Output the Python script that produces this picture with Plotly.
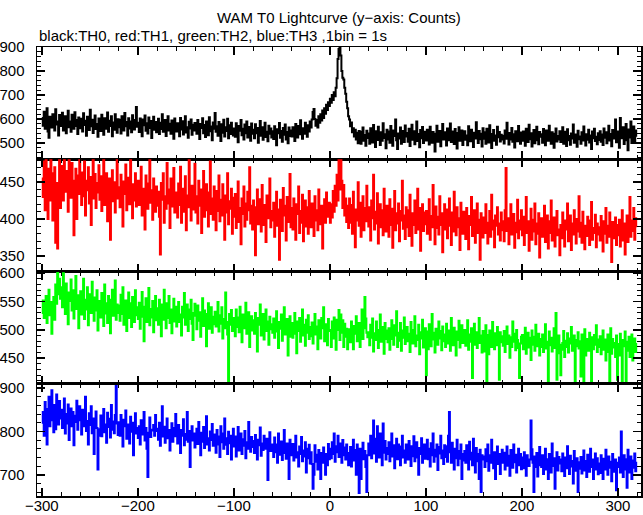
import numpy as np
import plotly.graph_objects as go

# ---------------- data (1 bin = 1 s, first bin at t = -300 s) ----------------
t_start = -300
bin_size = 1

black_th0 = [
    605, 572, 631, 560, 598, 645, 548, 522, 610, 584, 565, 620, 596, 553, 641, 578, 590, 532, 617, 571,
    598, 626, 553, 579, 612, 541, 603, 635, 566, 590, 547, 618, 584, 560, 629, 571, 596, 538, 607, 583,
    562, 601, 548, 624, 575, 593, 531, 610, 586, 555, 639, 570, 597, 542, 588, 615, 559, 580, 527, 603,
    590, 551, 618, 569, 535, 604, 582, 560, 628, 547, 593, 571, 612, 529, 586, 556, 620, 575, 543, 599,
    566, 597, 540, 612, 579, 553, 625, 570, 588, 532, 604, 561, 590, 545, 616, 572, 557, 596, 650, 568,
    585, 546, 603, 567, 529, 598, 574, 615, 552, 583, 540, 607, 563, 592, 521, 579, 610, 556, 588, 545,
    572, 601, 538, 585, 559, 620, 547, 575, 596, 530, 568, 612, 553, 581, 539, 594, 566, 518, 603, 557,
    548, 583, 570, 529, 605, 557, 591, 536, 574, 612, 544, 566, 522, 589, 561, 598, 535, 577, 553, 584,
    571, 539, 596, 552, 517, 580, 563, 604, 541, 575, 526, 590, 557, 533, 608, 549, 569, 512, 586, 560,
    625, 547, 570, 531, 588, 556, 509, 579, 543, 597, 528, 566, 551, 602, 520, 574, 538, 585, 555, 532,
    561, 527, 583, 545, 504, 571, 552, 596, 533, 560, 515, 578, 541, 590, 524, 556, 567, 510, 582, 539,
    556, 520, 579, 541, 563, 502, 548, 592, 531, 566, 514, 553, 585, 526, 547, 508, 572, 539, 561, 523,
    549, 517, 570, 532, 491, 558, 541, 584, 522, 551, 506, 563, 535, 578, 515, 546, 500, 565, 530, 553,
    528, 566, 541, 509, 580, 546, 523, 571, 537, 595, 550, 518, 562, 539, 585, 552, 527, 574, 548, 590,
    565, 598, 630, 642, 600, 572, 596, 565, 612, 585, 620, 594, 636, 605, 645, 622, 660, 638, 670, 655,
    685, 668, 700, 680, 712, 695, 730, 770, 850, 892, 900, 865, 800, 772, 765, 730, 705, 672, 645, 612,
    598, 570, 586, 545, 562, 528, 556, 515, 543, 500, 551, 526, 498, 547, 565, 510, 534, 489, 552, 521,
    540, 497, 562, 518, 503, 575, 529, 484, 550, 513, 568, 526, 492, 545, 510, 583, 521, 537, 479, 556,
    515, 548, 502, 571, 525, 489, 553, 530, 598, 512, 476, 540, 519, 565, 497, 534, 551, 505, 573, 528,
    542, 506, 560, 488, 531, 577, 514, 549, 495, 526, 590, 509, 538, 483, 555, 520, 567, 501, 536, 547,
    511, 556, 523, 494, 568, 530, 502, 546, 517, 465, 539, 572, 506, 528, 551, 487, 533, 580, 515, 545,
    524, 490, 561, 512, 537, 582, 505, 548, 520, 496, 559, 533, 478, 542, 566, 510, 527, 553, 492, 536,
    549, 514, 532, 491, 570, 523, 508, 556, 527, 484, 543, 519, 587, 530, 501, 551, 516, 539, 486, 562,
    518, 545, 497, 560, 529, 503, 574, 521, 480, 538, 555, 510, 532, 493, 568, 525, 546, 507, 535, 515,
    531, 499, 553, 518, 585, 527, 494, 542, 515, 563, 506, 537, 482, 550, 522, 508, 571, 529, 497, 544,
    510, 548, 523, 489, 560, 530, 505, 577, 516, 541, 486, 533, 555, 500, 524, 568, 512, 495, 546, 527,
    537, 502, 559, 520, 491, 553, 528, 510, 572, 517, 498, 545, 526, 481, 539, 561, 507, 530, 515, 549,
    505, 534, 566, 498, 521, 547, 488, 558, 512, 530, 493, 540, 519, 578, 502, 536, 524, 485, 552, 516,
    528, 497, 545, 511, 569, 523, 490, 537, 514, 556, 503, 532, 476, 548, 520, 560, 509, 527, 495, 541,
    513, 550, 506, 536, 492, 561, 522, 545, 500, 529, 572, 511, 538, 487, 555, 519, 533, 598, 504, 526,
    548, 481, 605, 520, 543, 566, 496, 533, 580, 512, 470, 557, 524, 590, 501, 538, 569, 509, 553, 527,
]

red_th1 = [
    455, 430, 478, 412, 490, 445, 400, 468, 425, 485, 438, 398, 462, 470, 368, 449, 360, 433, 486, 415,
    472, 448, 425, 491, 456, 437, 465, 410, 483, 444, 429, 476, 452, 378, 441, 468, 400, 459, 434, 487,
    446, 419, 463, 431, 478, 405, 452, 439, 470, 421, 457, 392, 444, 482, 428, 461, 415, 449, 436, 473,
    426, 458, 411, 447, 480, 419, 438, 462, 397, 441, 455, 372, 431, 466, 424, 450, 409, 437, 484, 428,
    443, 416, 460, 425, 390, 451, 434, 474, 412, 439, 456, 420, 483, 433, 401, 447, 425, 462, 417, 438,
    452, 419, 436, 471, 405, 441, 427, 386, 459, 430, 414, 448, 481, 422, 439, 399, 455, 428, 410, 444,
    418, 437, 403, 352, 449, 426, 462, 395, 431, 414, 476, 421, 440, 388, 455, 417, 433, 469, 409, 428,
    436, 402, 448, 419, 471, 395, 427, 441, 410, 458, 385, 432, 416, 483, 424, 398, 445, 413, 437, 475,
    409, 431, 394, 452, 418, 440, 381, 426, 465, 403, 421, 447, 412, 390, 436, 478, 407, 428, 399, 444,
    420, 385, 438, 411, 459, 397, 426, 405, 447, 418, 372, 432, 409, 462, 393, 424, 414, 441, 380, 429,
    403, 434, 388, 419, 451, 396, 415, 366, 428, 407, 444, 390, 421, 399, 437, 412, 470, 394, 418, 386,
    425, 398, 351, 416, 440, 393, 410, 427, 383, 446, 404, 392, 419, 369, 432, 401, 415, 455, 389, 411,
    398, 422, 376, 409, 437, 391, 413, 345, 426, 400, 384, 442, 405, 418, 371, 430, 396, 412, 461, 389,
    415, 386, 428, 399, 372, 420, 407, 444, 381, 411, 395, 433, 370, 404, 425, 390, 416, 380, 438, 401,
    389, 421, 404, 377, 431, 398, 412, 385, 440, 406, 393, 418, 360, 410, 427, 395, 436, 403, 415, 422,
    395, 420, 402, 438, 410, 445, 418, 460, 425, 481, 440, 490, 452, 415, 446, 405, 428, 396, 418, 388,
    428, 395, 419, 380, 437, 405, 362, 413, 398, 450, 391, 422, 376, 408, 431, 385, 415, 397, 445, 402,
    390, 416, 371, 425, 401, 460, 386, 410, 394, 435, 367, 404, 420, 389, 412, 378, 441, 399, 383, 418,
    403, 376, 427, 392, 414, 361, 399, 438, 385, 408, 394, 421, 370, 411, 398, 452, 387, 405, 373, 416,
    389, 412, 377, 433, 396, 364, 408, 392, 425, 381, 401, 441, 386, 415, 357, 398, 420, 384, 409, 393,
    411, 380, 398, 427, 372, 404, 389, 446, 395, 366, 417, 388, 403, 379, 431, 392, 408, 355, 399, 420,
    386, 413, 374, 400, 428, 391, 365, 409, 383, 437, 397, 378, 416, 389, 401, 358, 422, 394, 380, 410,
    398, 373, 415, 386, 359, 404, 392, 430, 377, 395, 412, 368, 387, 421, 381, 399, 345, 408, 390, 375,
    402, 381, 420, 395, 367, 389, 411, 376, 433, 386, 398, 362, 405, 391, 416, 379, 394, 371, 409, 385,
    397, 370, 412, 469, 384, 401, 366, 393, 420, 379, 388, 407, 361, 395, 382, 426, 374, 398, 386, 412,
    378, 403, 365, 392, 430, 381, 397, 357, 388, 414, 372, 399, 383, 421, 366, 394, 380, 408, 348, 390,
    401, 376, 392, 418, 369, 386, 405, 360, 397, 381, 425, 371, 389, 402, 363, 393, 411, 378, 386, 351,
    392, 374, 409, 381, 363, 398, 386, 421, 370, 389, 405, 358, 394, 379, 412, 385, 367, 400, 383, 431,
    376, 395, 368, 410, 384, 359, 391, 377, 403, 386, 365, 398, 423, 372, 388, 381, 406, 362, 394, 379,
    389, 371, 404, 383, 356, 397, 380, 415, 368, 391, 376, 409, 385, 342, 396, 374, 388, 402, 365, 392,
    378, 399, 363, 386, 412, 371, 394, 352, 381, 405, 369, 390, 430, 376, 398, 384, 415, 372, 401, 389,
]

green_th2 = [
    530, 552, 521, 545, 560, 512, 538, 571, 526, 549, 493, 535, 558, 518, 580, 546, 602, 563, 590, 555,
    575, 540, 600, 560, 528, 582, 545, 510, 566, 551, 589, 534, 570, 520, 548, 595, 537, 561, 503, 552,
    568, 527, 544, 590, 519, 553, 536, 575, 508, 548, 563, 530, 585, 541, 516, 557, 534, 570, 499, 546,
    551, 522, 565, 538, 507, 580, 529, 547, 512, 560, 536, 494, 553, 571, 525, 541, 587, 518, 545, 530,
    543, 516, 562, 528, 575, 509, 537, 552, 498, 534, 566, 521, 547, 505, 558, 531, 514, 570, 526, 540,
    519, 548, 502, 535, 567, 523, 480, 541, 556, 514, 530, 574, 508, 537, 522, 551, 496, 533, 560, 517,
    538, 509, 553, 526, 489, 545, 518, 571, 530, 503, 547, 521, 560, 512, 536, 494, 528, 555, 515, 541,
    506, 533, 549, 514, 527, 490, 541, 522, 565, 509, 528, 545, 498, 536, 519, 553, 511, 482, 530, 546,
    525, 501, 543, 516, 531, 488, 520, 556, 507, 534, 513, 471, 528, 547, 502, 519, 540, 495, 523, 510,
    532, 506, 518, 549, 497, 526, 511, 540, 485, 519, 503, 566, 514, 492, 407, 528, 509, 535, 498, 521,
    514, 489, 536, 505, 522, 496, 541, 510, 478, 527, 503, 520, 548, 493, 515, 531, 470, 508, 524, 499,
    517, 493, 530, 504, 462, 521, 509, 545, 490, 512, 528, 483, 506, 536, 498, 515, 474, 523, 501, 510,
    495, 520, 486, 511, 533, 497, 468, 514, 502, 527, 481, 508, 540, 492, 506, 519, 455, 501, 524, 488,
    512, 486, 507, 530, 493, 459, 515, 498, 521, 479, 503, 536, 490, 509, 472, 518, 495, 526, 484, 505,
    489, 513, 476, 501, 528, 492, 506, 466, 517, 498, 485, 521, 503, 540, 480, 510, 494, 473, 519, 500,
    498, 470, 515, 485, 522, 492, 465, 518, 500, 535, 482, 527, 495, 517, 470, 511, 488, 502, 466, 494,
    501, 478, 515, 489, 466, 507, 493, 524, 480, 498, 512, 470, 490, 536, 484, 503, 558, 520, 495, 487,
    496, 473, 509, 486, 520, 462, 494, 482, 515, 500, 468, 491, 527, 479, 505, 488, 458, 512, 484, 499,
    478, 503, 465, 492, 517, 484, 474, 508, 490, 533, 470, 495, 481, 512, 463, 499, 486, 522, 475, 494,
    505, 480, 493, 461, 514, 488, 476, 500, 524, 471, 490, 482, 509, 457, 496, 485, 518, 469, 492, 503,
    420, 497, 466, 510, 487, 471, 528, 483, 495, 460, 502, 489, 474, 515, 485, 498, 464, 506, 480, 492,
    470, 511, 488, 476, 499, 463, 521, 486, 473, 504, 491, 455, 497, 482, 516, 469, 489, 508, 477, 494,
    500, 472, 486, 517, 465, 492, 479, 503, 415, 488, 511, 474, 496, 468, 484, 521, 477, 490, 460, 498,
    485, 462, 508, 410, 491, 457, 499, 483, 470, 514, 480, 466, 494, 473, 505, 487, 412, 496, 478, 489,
    472, 498, 461, 484, 506, 475, 490, 451, 487, 470, 515, 479, 493, 464, 500, 482, 468, 415, 476, 488,
    491, 466, 483, 504, 458, 477, 495, 469, 486, 447, 499, 474, 488, 463, 509, 480, 471, 493, 455, 484,
    470, 492, 461, 484, 510, 467, 479, 410, 497, 473, 486, 462, 481, 503, 468, 530, 412, 459, 490, 474,
    420, 465, 477, 498, 452, 481, 470, 494, 460, 485, 476, 505, 463, 479, 490, 406, 482, 471, 496, 467,
    480, 418, 492, 469, 408, 501, 455, 484, 472, 463, 495, 478, 408, 487, 466, 491, 474, 508, 461, 483,
    470, 489, 457, 478, 499, 465, 483, 446, 476, 492, 461, 410, 503, 458, 484, 469, 477, 452, 490, 412,
    475, 455, 493, 468, 406, 482, 471, 497, 409, 479, 463, 488, 452, 474, 492, 446, 470, 485, 461, 477,
]

blue_th3 = [
    820, 845, 790, 868, 835, 770, 852, 880, 812, 840, 895, 826, 798, 861, 805, 885, 842, 816, 870, 830,
    850, 808, 832, 876, 795, 840, 818, 862, 780, 829, 853, 812, 845, 768, 836, 822, 871, 804, 839, 858,
    826, 793, 850, 812, 835, 880, 801, 824, 770, 842, 815, 858, 796, 830, 748, 821, 846, 808, 712, 790,
    805, 837, 789, 821, 852, 798, 816, 774, 843, 810, 829, 786, 861, 804, 823, 796, 838, 905, 818, 792,
    821, 790, 838, 806, 765, 827, 812, 848, 783, 801, 816, 772, 834, 799, 820, 745, 810, 842, 795, 808,
    785, 812, 770, 826, 801, 793, 845, 779, 808, 760, 695, 797, 832, 787, 804, 802, 815, 790, 838, 801,
    806, 781, 820, 767, 795, 858, 788, 811, 774, 799, 830, 784, 803, 756, 792, 819, 776, 808, 789, 840,
    797, 772, 815, 784, 750, 803, 790, 828, 768, 794, 781, 845, 776, 801, 718, 788, 812, 779, 795, 763,
    789, 806, 771, 822, 783, 745, 797, 776, 810, 762, 791, 835, 770, 784, 756, 800, 780, 817, 767, 793,
    779, 751, 803, 770, 788, 741, 812, 775, 795, 760, 830, 769, 784, 748, 799, 773, 790, 735, 781, 806,
    765, 788, 742, 779, 810, 756, 773, 795, 748, 782, 767, 801, 738, 775, 760, 822, 771, 753, 787, 764,
    778, 750, 792, 763, 735, 781, 768, 809, 744, 772, 757, 790, 760, 766, 783, 688, 775, 798, 755, 770,
    763, 741, 786, 752, 770, 728, 795, 759, 746, 777, 734, 766, 803, 750, 737, 772, 755, 690, 781, 748,
    745, 771, 733, 758, 790, 740, 752, 719, 765, 748, 787, 731, 756, 742, 775, 705, 760, 738, 769, 726,
    752, 725, 668, 700, 768, 730, 746, 712, 757, 739, 690, 750, 728, 763, 735, 700, 748, 722, 771, 736,
    760, 738, 775, 748, 795, 730, 766, 752, 790, 741, 772, 758, 728, 780, 745, 763, 735, 770, 750, 722,
    738, 764, 719, 752, 781, 733, 757, 700, 770, 742, 658, 760, 690, 748, 774, 736, 755, 718, 660, 745,
    772, 745, 790, 738, 760, 825, 749, 783, 730, 812, 756, 740, 795, 766, 722, 818, 751, 778, 735, 762,
    748, 775, 731, 760, 795, 742, 768, 715, 757, 783, 736, 770, 748, 722, 765, 790, 740, 756, 728, 770,
    761, 735, 778, 752, 720, 766, 743, 789, 731, 757, 775, 740, 700, 762, 748, 784, 728, 755, 770, 737,
    752, 781, 736, 760, 719, 773, 745, 795, 730, 758, 742, 770, 711, 764, 749, 790, 738, 756, 725, 768,
    741, 766, 730, 790, 845, 752, 728, 774, 746, 712, 760, 738, 781, 722, 755, 737, 770, 690, 748, 733,
    755, 728, 768, 741, 712, 776, 735, 751, 722, 783, 740, 705, 762, 731, 748, 690, 758, 660, 745, 735,
    742, 718, 759, 731, 770, 709, 745, 728, 781, 736, 715, 752, 690, 740, 765, 725, 748, 702, 737, 758,
    728, 751, 712, 739, 765, 721, 744, 698, 757, 733, 716, 770, 729, 746, 705, 738, 760, 722, 748, 713,
    740, 715, 752, 726, 698, 745, 735, 720, 735, 825, 759, 728, 660, 742, 718, 750, 696, 733, 764, 722,
    718, 745, 702, 730, 760, 712, 736, 690, 748, 725, 705, 772, 720, 738, 668, 731, 752, 710, 741, 726,
    735, 708, 749, 721, 697, 740, 715, 766, 726, 702, 744, 719, 732, 680, 755, 724, 709, 738, 660, 729,
    714, 741, 703, 728, 756, 710, 732, 695, 746, 721, 707, 760, 718, 735, 690, 727, 749, 712, 738, 701,
    726, 704, 745, 719, 690, 737, 712, 758, 723, 700, 742, 716, 730, 685, 748, 721, 707, 735, 664, 728,
    718, 740, 705, 800, 727, 695, 745, 712, 736, 670, 758, 721, 705, 742, 690, 733, 716, 749, 708, 730,
]

x_tickvals = [-300, -200, -100, 0, 100, 200, 300]
title_text = "WAM T0 Lightcurve (y\u2212axis: Counts)"
subtitle_text = "black:TH0, red:TH1, green:TH2, blue:TH3 ,1bin = 1s"

# ---------------- figure ----------------
FONT = "Liberation Sans, Arial, Helvetica, sans-serif"
panels = [
    (black_th0, "#000000", [433, 900], 100, 20),
    (red_th1, "#ff0000", [329, 481], 50, 10),
    (green_th2, "#00ff00", [405, 603], 50, 10),
    (blue_th3, "#0000ff", [651, 910], 100, 20),
]

fig = go.Figure()
layout_axes = {}
n = len(panels)
for i, (vals, color, yrange, ydt, ymdt) in enumerate(panels):
    k = i + 1
    xs = t_start + bin_size * np.arange(len(vals))
    xname = "x" if k == 1 else f"x{k}"
    yname = "y" if k == 1 else f"y{k}"
    fig.add_trace(go.Scatter(
        x=xs, y=vals, mode="lines",
        line=dict(color=color, width=2, shape="hv"),
        xaxis=xname, yaxis=yname, showlegend=False, hoverinfo="skip",
    ))
    dom = [1 - k / n, 1 - (k - 1) / n]
    common = dict(
        showline=True, mirror="ticks", linecolor="black", linewidth=1.5,
        ticks="inside", tickcolor="black", tickwidth=1.5, ticklen=8,
        showgrid=False, zeroline=False, automargin=False,
        tickfont=dict(family=FONT, size=15, color="black"),
    )
    layout_axes["xaxis" if k == 1 else f"xaxis{k}"] = dict(
        common, range=[-305, 324], domain=[0, 1],
        anchor=yname, tickvals=x_tickvals, ticklabelstandoff=-5,
        minor=dict(ticks="inside", ticklen=4, dtick=20, tick0=0,
                   tickcolor="black", tickwidth=1, showgrid=False),
        showticklabels=(k == n),
        matches=None if k == 1 else "x",
    )
    layout_axes["yaxis" if k == 1 else f"yaxis{k}"] = dict(
        common, range=yrange, domain=dom, anchor=xname,
        dtick=ydt, tick0=0, ticklabelstandoff=8,
        minor=dict(ticks="inside", ticklen=4, dtick=ymdt, tick0=0,
                   tickcolor="black", tickwidth=1, showgrid=False),
    )

fig.update_layout(
    width=643, height=515,
    margin=dict(l=37, r=2, t=47, b=19, autoexpand=False),
    paper_bgcolor="white", plot_bgcolor="white",
    font=dict(family=FONT, size=15, color="black"),
    showlegend=False,
    annotations=[
        dict(text=title_text, xref="paper", yref="paper", x=0.5, y=1.0668,
             xanchor="center", yanchor="middle", showarrow=False,
             font=dict(family=FONT, size=15, color="black")),
        dict(text=subtitle_text, xref="paper", yref="paper", x=0.0, y=1.0267,
             xanchor="left", yanchor="middle", showarrow=False,
             font=dict(family=FONT, size=15, color="black")),
    ],
    **layout_axes,
)

fig.write_html(
    "out.html",
    config={"displayModeBar": False, "staticPlot": True},
    post_script="document.body.style.margin='0px';document.body.style.overflow='hidden';",
)
